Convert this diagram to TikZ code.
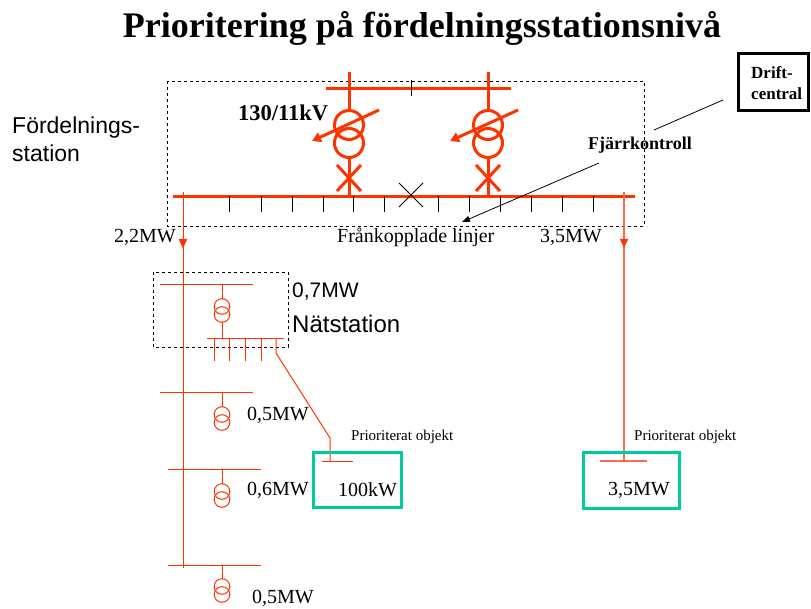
\documentclass[tikz,border=0pt]{standalone}
\usepackage{fontspec}
\setmainfont{Liberation Serif}
\newfontfamily\arialf{Liberation Sans}
\usetikzlibrary{arrows.meta}
\definecolor{rd}{HTML}{FF3300}
\definecolor{rdl}{HTML}{FF6A4D}
\definecolor{gr}{HTML}{00CC99}
\begin{document}
\begin{tikzpicture}[x=1pt,y=-1pt,
  thickred/.style={rd, line width=3pt},
  thinred/.style={rd, line width=1pt},
  lightred/.style={rdl, line width=1.2pt},
  blacktick/.style={black, line width=0.9pt},
  dashbox/.style={draw=black, line width=0.9pt, dash pattern=on 3pt off 3pt},
  greenbox/.style={draw=gr, line width=3pt},
  txt/.style={inner sep=0pt, font=\fontsize{20}{24}\selectfont},
  smalltxt/.style={inner sep=0pt, font=\fontsize{15}{18}\selectfont},
  boldtxt/.style={inner sep=0pt, font=\bfseries\fontsize{18}{18}\selectfont},
  sanstxt/.style={inner sep=0pt, font=\arialf\fontsize{23}{28}\selectfont},
  smtr/.pic={\draw[thinred] (0,0) circle[radius=7.8pt]; \draw[thinred] (0,8) circle[radius=7.8pt];}
]
\path[use as bounding box] (0,0) rectangle (811,608);

% title
\node[inner sep=0pt, font=\bfseries\fontsize{36}{38}\selectfont] (title) at (422,28) {Prioritering på fördelningsstationsnivå};

% Fördelningsstation box
\draw[dashbox] (167,81) rectangle (644,226);
\node[sanstxt, anchor=west, align=left] (fs) at (12,139) {Fördelnings-\\station};

% top busbar
\draw[thickred] (326,88) coordinate (tb1) -- (511,88) coordinate (tb2);
\draw[blacktick] (411,80) -- (411,96);

% transformers 130/11
\foreach \xx/\nm in {349/A,488/B}{
  \draw[thickred] (\xx,72) -- (\xx,110.5);
  \draw[thickred] (\xx,125) circle[radius=14.5pt];
  \draw[thickred] (\xx,143) circle[radius=14.5pt];
  \draw[thickred] (\xx,157.5) -- (\xx,196);
  \draw[thickred] (\xx-12,165) -- (\xx+12,191);
  \draw[thickred] (\xx-12,191) -- (\xx+12,165);
}
\draw[thickred, -{Triangle[width=10pt,length=9pt]}] (379,110) -- (312,141);
\draw[thickred, -{Triangle[width=10pt,length=9pt]}] (518,110) -- (450,141);
\node[inner sep=0pt, font=\bfseries\fontsize{22.5}{24}\selectfont, anchor=west] (kv) at (238,113) {130/11kV};

% main busbar
\draw[thickred] (173,196) coordinate (mb1) -- (635,196) coordinate (mb2);
\foreach \xx in {229,261,292,323,353,384,438,469,500,531,562,593}{
  \draw[blacktick] (\xx,196) -- (\xx,212);
}
\draw[blacktick] (399,183) -- (423,207);
\draw[blacktick] (399,207) -- (423,183);

% labels under busbar
\node[txt, anchor=east] (l22) at (176,237) {2,2MW};
\node[txt, anchor=west] (lfr) at (337,237) {Frånkopplade linjer};
\node[txt, anchor=west] (l35) at (540,237) {3,5MW};

% Driftcentral and Fjärrkontroll
\draw[black, line width=3pt] (738,53) rectangle (808,110);
\node[boldtxt, anchor=west, align=left, font=\bfseries\fontsize{17}{21}\selectfont] (dc) at (751,83) {Drift-\\central};
\coordinate (dcl) at (723,100);
\coordinate (fjl) at (654,130);
\draw[black, line width=0.8pt] (dcl) -- (fjl);
\node[boldtxt, anchor=west] (fj) at (588,145) {Fjärrkontroll};
\coordinate (fja) at (599,163);
\coordinate (fjb) at (462,222);
\draw[black, line width=0.8pt, -{Triangle[width=6pt,length=8pt]}] (fja) -- (fjb);

% feeders
\draw[thinred] (183,192) -- (183,568);
\draw[rd, fill=rd] (179,239) -- (187,239) -- (183,248) -- cycle;
\draw[lightred] (624,192) -- (624,461);
\draw[rd, fill=rd] (620,239) -- (628,239) -- (624,247) -- cycle;

% Nätstation
\draw[dashbox] (153,272) rectangle (288,347);
\draw[thinred] (160,284) -- (253,284);
\draw[thinred] (222,284) -- (222,299);
\pic at (222,306.5) {smtr};
\draw[thinred] (222,322) -- (222,338);
\draw[thinred] (207,338) -- (284,338);
\foreach \xx in {214,229,245,261}{
  \draw[thinred] (\xx,338) -- (\xx,361);
}
\draw[thinred] (276,338) -- (276,353) -- (330,438) -- (330,461);
\node[inner sep=0pt, font=\arialf\fontsize{21}{24}\selectfont, anchor=west] (l07) at (292,292) {0,7MW};
\node[inner sep=0pt, font=\arialf\fontsize{24}{28}\selectfont, anchor=west] (nat) at (292,324) {Nätstation};

% lower stations
\draw[thinred] (160,392) -- (253,392);
\draw[thinred] (222,392) -- (222,407);
\pic at (222,414.5) {smtr};
\node[txt, anchor=west] (l05a) at (247,415) {0,5MW};

\draw[thinred] (168,469) -- (261,469);
\draw[thinred] (222,469) -- (222,484);
\pic at (222,491.5) {smtr};
\node[txt, anchor=west] (l06) at (247,490) {0,6MW};

\draw[thinred] (168,565) -- (261,565);
\draw[thinred] (222,565) -- (222,579);
\pic at (222,586.5) {smtr};
\node[txt, anchor=west] (l05b) at (252,598) {0,5MW};

% prioritized objects
\draw[greenbox] (313,452) rectangle (401,507);
\draw[thinred] (322,461) -- (353,461);
\node[txt, anchor=west] (p1v) at (338,490) {100kW};
\node[smalltxt, anchor=west] (p1) at (351,437) {Prioriterat objekt};

\draw[greenbox] (583,452) rectangle (679,508);
\draw[lightred] (600,461) -- (647,461);
\node[txt, anchor=west] (p2v) at (608,490) {3,5MW};
\node[smalltxt, anchor=west] (p2) at (634,437) {Prioriterat objekt};
\end{tikzpicture}
\end{document}
